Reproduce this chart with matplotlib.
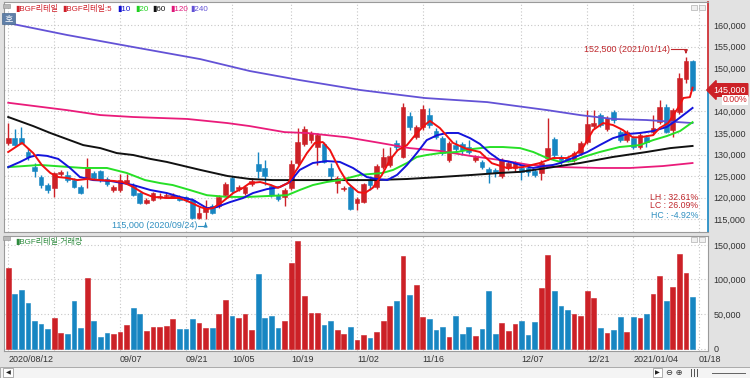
import numpy as np
import pandas as pd
import matplotlib
matplotlib.use("Agg")
import matplotlib.pyplot as plt
from matplotlib.patches import Rectangle
from matplotlib.transforms import blended_transform_factory

plt.rcParams['font.family'] = ['Liberation Sans', 'Noto Sans CJK KR', 'DejaVu Sans']

# trading days (KRX holidays removed)
holidays = ['2020-08-17', '2020-09-30', '2020-10-01', '2020-10-02', '2020-10-09',
            '2020-12-25', '2020-12-31', '2021-01-01']
dates = [d for d in pd.bdate_range('2020-08-12', '2021-01-15') if d.strftime('%Y-%m-%d') not in holidays]

opens = [132700, 133800, 133800, 130600, 127100, 124800, 123000, 122300, 125500, 125300,
         124100, 122500, 124600, 125750, 126200, 124350, 121800, 121800, 123400, 122700,
         121100, 118800, 119500, 120200, 120400, 120200, 120200, 120200, 119500, 115300,
         116700, 118100, 118100, 120600, 124600, 122000, 121100, 123200, 127800, 126900,
         122700, 120600, 120200, 122300, 128050, 132450, 133350, 131750, 132450, 126900,
         123400, 122000, 122500, 118800, 119000, 124100, 122500, 127100, 127600, 132700,
         129450, 138950, 134000, 136400, 139150, 135450, 133800, 128750, 132200, 132450,
         131750, 128750, 128300, 126650, 126450, 125050, 126900, 126900, 126900, 126900,
         126200, 125750, 129200, 133600, 129450, 129200, 128750, 130350, 132900, 136600,
         139150, 135900, 139850, 135200, 133350, 133800, 131750, 134000, 135200, 137550,
         141000, 135700, 139850, 147500, 151700]
highs = [137300, 135900, 136400, 131500, 128050, 125300, 123400, 126000, 126450, 126200,
         124600, 123000, 129200, 126200, 126450, 124800, 123000, 125500, 125500, 123400,
         121300, 120000, 121300, 121000, 121100, 121000, 120600, 120400, 120000, 117850,
         119500, 118500, 120600, 123600, 125050, 123000, 123000, 124600, 130600, 128750,
         123200, 121100, 122300, 128750, 136150, 136600, 135500, 135000, 132900, 128050,
         125050, 122700, 123000, 120200, 123400, 125050, 127800, 131500, 131750, 133350,
         141900, 139850, 136850, 141500, 140800, 136150, 134300, 133150, 133350, 132900,
         133350, 129900, 128750, 127100, 126900, 129200, 128500, 128500, 127350, 127350,
         126650, 128750, 138500, 134000, 129900, 129700, 130850, 133150, 140300, 140300,
         139600, 138950, 140300, 135700, 135700, 134300, 135000, 134500, 139150, 142600,
         141700, 140800, 148900, 152500, 152000]
lows = [132200, 132000, 132500, 128750, 124800, 122300, 121100, 120200, 125050, 123600,
        122300, 120900, 122300, 124100, 123600, 122700, 121300, 121300, 123200, 120400,
        118500, 118500, 119200, 119700, 120000, 119900, 119200, 119000, 115100, 115100,
        115000, 116300, 117600, 120400, 121100, 121600, 120600, 122700, 124600, 123000,
        120200, 119200, 118100, 121800, 127600, 132000, 132700, 127600, 128000, 124100,
        121100, 121600, 117200, 117200, 118800, 121800, 122000, 126650, 127100, 131050,
        129200, 135700, 133600, 135700, 136150, 133600, 129900, 128300, 130600, 129900,
        130150, 128300, 126650, 123400, 124800, 124600, 126450, 126000, 124100, 125050,
        124800, 124100, 128750, 129200, 127600, 128300, 128300, 129900, 132450, 136150,
        136400, 135450, 137300, 132900, 132900, 131300, 131300, 131750, 134500, 137100,
        135000, 134000, 139400, 146500, 144800]
closes = [133800, 132200, 132700, 129450, 126200, 123000, 121800, 125750, 126000, 124100,
          122500, 121100, 127100, 124600, 124100, 123200, 122500, 124100, 124100, 120600,
          118800, 119500, 121100, 120400, 120600, 120600, 119500, 119500, 115300, 116500,
          117600, 116500, 120200, 123200, 121600, 122500, 122500, 123900, 126200, 125050,
          120600, 119700, 121800, 127800, 132900, 135900, 135000, 134500, 128300, 125050,
          124600, 122300, 117400, 119700, 123200, 123000, 127350, 129450, 129700, 131750,
          141000, 136400, 136400, 140550, 136850, 134000, 130350, 132700, 131300, 131050,
          130600, 129450, 127100, 125750, 125750, 128750, 128050, 128050, 126000, 126000,
          125300, 128050, 131500, 129900, 128750, 128750, 130350, 132700, 137100, 137300,
          136850, 138500, 138000, 133350, 135200, 131750, 134500, 132900, 136150, 141000,
          135200, 140300, 147700, 151700, 145000]
volumes = [117000, 79000, 84800, 66400, 40300, 35500, 28300, 43800, 22900, 21000,
           68800, 29300, 101700, 40300, 17100, 22900, 21000, 23900, 33600, 58200,
           50000, 25800, 31200, 31200, 32100, 42700, 28300, 28300, 42700, 36900,
           30200, 30200, 49500, 70300, 47500, 43800, 50400, 26300, 108000, 43800,
           46600, 29300, 39800, 123400, 155300, 76500, 51000, 51000, 34000, 39800,
           26300, 21000, 31200, 11900, 19100, 15700, 24300, 39800, 62000, 68800,
           134000, 77500, 92000, 45200, 42300, 26800, 31600, 16700, 47500, 21400,
           30700, 17700, 28700, 83800, 21400, 36900, 25800, 36000, 40300, 19600,
           38400, 87200, 135500, 82900, 62000, 55300, 49500, 47500, 82900, 73600,
           30200, 22000, 26300, 45600, 23900, 45600, 44600, 50000, 79000, 105500,
           68800, 89100, 137000, 109800, 74600]

# moving-average lines (bar index, price)
ma5_x = [0, 2.1, 3.8, 5.1, 6.4, 7.6, 8.9, 10.5, 12, 14, 16, 17.4, 19, 20.5, 22, 24, 26, 27.6,
         29.2, 30.2, 31.1, 32.5, 34.2, 35.7, 36.7, 38.3, 39.8, 41, 42.5, 44, 45.4, 46.6, 47.8,
         48.9, 50.4, 51.6, 53.2, 54.2, 55.4, 56.8, 58, 59.2, 60.6, 62.1, 63.3, 64.1, 65.6, 67.6,
         69.7, 71.7, 73.5, 75.8, 78.2, 80.8, 82.8, 84.9, 86.4, 87.4, 88.9, 90.4, 91.9, 93.4,
         94.9, 96, 98, 99, 100.3, 101.8, 102.6, 103.6, 104]
ma5_y = [130600, 132700, 130350, 127600, 125750, 124800, 124600, 124100, 124350, 124100,
         123900, 123650, 122500, 121100, 120200, 119950, 119950, 119000, 117850, 117400,
         117600, 119000, 121100, 122300, 123400, 123650, 123000, 122300, 123400, 126900,
         130350, 132700, 132900, 131050, 126450, 123400, 121300, 121100, 122300, 125300,
         128750, 131050, 132200, 135000, 136850, 137800, 136150, 132700, 131300, 130600,
         128000, 126900, 127100, 128050, 129200, 129200, 130350, 131750, 135700, 137300,
         136850, 135700, 134000, 134000, 134500, 136150, 137300, 140800, 143100, 143300, 145500]
ma10_x = [0, 1.8, 3.3, 4.5, 5.9, 7.6, 9.4, 10.9, 12.9, 15.5, 17.4, 19, 21.6, 24.1, 26.1, 28.1,
          30.2, 31.7, 33.7, 35.7, 37.2, 39.3, 41.3, 42.8, 44.3, 46.3, 48.4, 50.4, 52.4, 54.5,
          56, 57.6, 59.1, 60.6, 62.1, 63.6, 65.2, 66.7, 68.4, 70.2, 71.7, 73.2, 74.7, 76.3,
          77.8, 79.8, 81.3, 82.8, 83.9, 85.8, 88, 89.9, 91.9, 94, 96, 98, 100.1, 101.6, 103.2, 104]
ma10_y = [127100, 128300, 129450, 129900, 129700, 129000, 126900, 124800, 124100, 123900,
          123400, 122950, 121800, 121100, 120200, 119500, 117600, 117850, 119000, 119950,
          121100, 122000, 122500, 123650, 126450, 128050, 128500, 128300, 126900, 124800,
          124350, 124100, 125300, 127600, 130350, 133350, 134500, 135000, 135000, 133800,
          132450, 130350, 128750, 128300, 127600, 126900, 127350, 127600, 128050, 129200,
          130600, 132200, 133800, 134750, 135000, 135450, 136400, 138000, 139850, 140800]
ma20_x = [0, 4.8, 11.4, 15, 18, 20.8, 23.1, 25, 27.6, 30.2, 33.3, 36.3, 39.3, 42.4, 44.3, 46.3,
          48.4, 50.4, 53.5, 56.9, 58.5, 60.6, 62.1, 63.6, 65.6, 68.2, 70.6, 73.2, 75.2, 77.8,
          79.8, 81.9, 83.9, 85.8, 87.4, 89.9, 92.9, 96, 98, 100.1, 102.1, 104]
ma20_y = [127100, 127600, 126900, 126900, 125750, 124100, 123400, 122950, 121800, 120600,
          120200, 120200, 120400, 120600, 121800, 122950, 123650, 124100, 125300, 125750,
          126450, 128050, 129450, 129900, 130350, 130600, 131300, 131750, 131750, 131500,
          130600, 129200, 128300, 128500, 129450, 130600, 131750, 132200, 133350, 134300,
          135450, 137500]
ma60_x = [0, 3.8, 6.4, 8.9, 11.4, 14, 16.5, 19, 21.6, 24.1, 29.2, 33.3, 36.7, 40.2, 45.4, 50.4,
          55.4, 60.6, 65.6, 70.6, 74.7, 77.8, 81.9, 86.9, 91.9, 97, 100.6, 104]
ma60_y = [138700, 136600, 135000, 133600, 132200, 131500, 130350, 129900, 129000, 128300,
          126450, 125050, 124350, 124100, 124100, 124100, 124100, 124350, 124800, 125300,
          125750, 126000, 126900, 128050, 129450, 130600, 131500, 132000]
ma120_x = [0, 8.9, 14, 19, 27.2, 33.3, 36.7, 42, 45.4, 51.5, 56.5, 61, 65.6, 70.2, 74.7, 79.3,
           83.9, 89.9, 94.5, 99.5, 104]
ma120_y = [142000, 140300, 139150, 138700, 138250, 137300, 136600, 135200, 135000, 134000,
           132700, 131500, 130850, 129700, 128750, 127600, 127100, 126900, 126900, 127350, 128050]
ma240_x = [0, 8.9, 19, 29.2, 36.7, 44.3, 53.5, 63.3, 72.8, 81.9, 86.9, 91.9, 97, 104]
ma240_y = [160450, 157700, 154900, 152100, 149350, 147250, 144950, 143100, 142150, 140300,
           139150, 138250, 138000, 137300]

grid_dates = ['2020-08-12', '2020-08-24', '2020-09-07', '2020-09-21', '2020-10-05', '2020-10-19',
              '2020-11-02', '2020-11-16', '2020-12-07', '2020-12-21', '2021-01-04', '2021-01-18']
grid_labels = ['2020/08/12', '', '09/07', '09/21', '10/05', '10/19', '11/02', '11/16',
               '12/07', '12/21', '2021/01/04', '01/18']

RED = '#cc2127'
BLUE = '#1786c2'
GRID = '#c6c6c6'
BG = '#e2e2e2'
W, H = 750, 378


def fx(px):
    return px / W


def fy(py):
    return 1 - py / H


n = len(closes)
x = np.arange(n)
o = np.array(opens); c = np.array(closes); hi = np.array(highs); lo = np.array(lows)
colors = np.where(c >= o, RED, BLUE)
date_str = [d.strftime('%Y-%m-%d') for d in dates]
grid_pos = [date_str.index(d) if d in date_str else n for d in grid_dates]

fig = plt.figure(figsize=(7.5, 3.78), dpi=100, facecolor=BG)
ax = fig.add_axes([fx(4), fy(232), fx(704), 230 / H])
axv = fig.add_axes([fx(4), fy(351), fx(704), 115 / H])

for a in (ax, axv):
    a.set_facecolor('white')
    a.set_xlim(-0.64, 106.35)
    a.set_xticks(grid_pos)
    a.grid(True, color=GRID, linestyle=(0, (1, 2)), lw=0.8)
    a.set_axisbelow(True)
    for s in a.spines.values():
        s.set_color('#9a9a9a')
        s.set_linewidth(0.8)
    a.yaxis.tick_right()
    a.tick_params(length=0, labelsize=6.5, colors='#333333', pad=4)

# candles
ax.vlines(x, lo, hi, colors=colors, lw=1.0, zorder=2)
body_lo = np.minimum(o, c)
body_h = np.maximum(np.abs(c - o), 250)
ax.bar(x, body_h, bottom=body_lo, width=0.72, color=colors, edgecolor=colors, lw=0.4, zorder=3)

ax.plot(ma240_x, ma240_y, color='#6352d6', lw=1.3, zorder=4)
ax.plot(ma120_x, ma120_y, color='#ea1b7a', lw=1.3, zorder=4)
ax.plot(ma60_x, ma60_y, color='#111111', lw=1.4, zorder=4)
ax.plot(ma20_x, ma20_y, color='#27e027', lw=1.4, zorder=4)
ax.plot(ma10_x, ma10_y, color='#1414dc', lw=1.4, zorder=4)
ax.plot(ma5_x, ma5_y, color='#f01010', lw=1.4, zorder=5)

ax.set_ylim(112080, 165325)
ax.set_yticks(range(115000, 160001, 5000))
ax.yaxis.set_major_formatter(matplotlib.ticker.FuncFormatter(lambda v, p: f'{int(v):,}'))
ax.set_xticklabels([])
ax.spines['right'].set_visible(False)

# current price marker on the axis edge
last = closes[-1]
tr = blended_transform_factory(ax.transAxes, ax.transData)
ax.plot([1.0, 1.0], [last, 165325], color=RED, lw=1.2, transform=tr, clip_on=False)
ax.plot([1.0, 1.0], [112080, last], color=BLUE, lw=1.2, transform=tr, clip_on=False)
fig.text(fx(746), fy(90), f'{last:,}', ha='right', va='center', color='white', size=6.5,
         bbox=dict(boxstyle='larrow,pad=0.2', fc=RED, ec=RED), zorder=10)
fig.text(fx(747), fy(100), '0.00%', ha='right', va='center', color=RED, size=6.3,
         bbox=dict(boxstyle='square,pad=0.1', fc='white', ec='none'), zorder=10)

# high / low annotations
hi_i = int(np.argmax(hi)); lo_i = int(np.argmin(lo))
hv, lv = hi[hi_i], lo[lo_i]
ax.text(hi_i - 2.4, hv + 1900, f'{hv:,} ({dates[hi_i]:%Y/%m/%d})', ha='right', va='center',
        color='#c0282d', size=6.5)
ax.plot([hi_i - 2.2, hi_i], [hv + 1900, hv + 1900], color='#c0282d', lw=0.8)
ax.annotate('', xy=(hi_i, hv + 200), xytext=(hi_i, hv + 1900),
            arrowprops=dict(arrowstyle='-|>', color='#c0282d', lw=0.8, mutation_scale=5))
ax.text(lo_i - 1.2, lv - 1500, f'{lv:,} ({dates[lo_i]:%Y/%m/%d})', ha='right', va='center',
        color='#2f8fc0', size=6.5)
ax.plot([lo_i - 1.1, lo_i], [lv - 1500, lv - 1500], color='#2f8fc0', lw=0.8)
ax.annotate('', xy=(lo_i, lv - 200), xytext=(lo_i, lv - 1500),
            arrowprops=dict(arrowstyle='-|>', color='#2f8fc0', lw=0.8, mutation_scale=5))

lh = (hv / lv - 1) * 100
lc = (last / lv - 1) * 100
hc = (last / hv - 1) * 100
fig.text(fx(698), fy(197), f'LH : {lh:.2f}%', ha='right', va='center', color='#c0282d', size=6.3)
fig.text(fx(698), fy(206), f'LC : {lc:.2f}%', ha='right', va='center', color='#c0282d', size=6.3)
fig.text(fx(698), fy(215), f'HC : {hc:.2f}%', ha='right', va='center', color='#2f8fc0', size=6.3)

# volume panel
axv.bar(x, volumes, width=0.72, color=colors, edgecolor=colors, lw=0.4, zorder=3)
axv.set_ylim(-3600, 163000)
axv.set_yticks([0, 50000, 100000, 150000])
axv.yaxis.set_major_formatter(matplotlib.ticker.FuncFormatter(lambda v, p: f'{int(v):,}'))
axv.set_xticklabels(grid_labels)
for t in axv.get_xticklabels():
    t.set_ha('left')
axv.tick_params(axis='x', pad=3)

# header legends
legend_items = [('▮BGF리테일', '#d0202a', 15), ('▮BGF리테일:5', '#d0202a', 62), ('▮10', '#1010d0', 117),
                ('▮20', '#20d020', 135), ('▮60', '#111111', 152), ('▮120', '#e0187a', 170),
                ('▮240', '#6352d6', 190)]
for txt, col, px in legend_items:
    fig.text(fx(px), fy(9), txt, color=col, size=5.8, va='center', ha='left')
fig.text(fx(15), fy(242), '▮BGF리테일:거래량', color='#2e8b3e', size=5.8, va='center', ha='left')

# small panel icons
for py in (4, 236):
    fig.patches.append(Rectangle((fx(3), fy(py + 4)), fx(7), 4 / H, transform=fig.transFigure,
                                 fc='#b8b8b8', ec='#909090', lw=0.4))
    for px in (691, 699):
        fig.patches.append(Rectangle((fx(px), fy(py + 6)), fx(6), 5 / H, transform=fig.transFigure,
                                     fc='#f0f0f0', ec='#a0a0a0', lw=0.4))
fig.patches.append(Rectangle((fx(2), fy(24)), fx(13), 11 / H, transform=fig.transFigure,
                             fc='#5f7fa8', ec='#4a6a90', lw=0.5))
fig.text(fx(8.5), fy(18.5), '호', color='white', size=6.5, ha='center', va='center',
         family=['Noto Sans CJK KR', 'DejaVu Sans'])

# bottom scroll bar
fig.patches.append(Rectangle((0, 0), 1, 11 / H, transform=fig.transFigure, fc='#f4f4f4', ec='#a0a0a0', lw=0.6))
fig.patches.append(Rectangle((fx(3), fy(377)), fx(10), 9 / H, transform=fig.transFigure,
                             fc='white', ec='#909090', lw=0.5))
fig.text(fx(8), fy(372.5), '◀', size=4.5, ha='center', va='center', color='#222222', family='DejaVu Sans')
fig.patches.append(Rectangle((fx(653), fy(377)), fx(9), 9 / H, transform=fig.transFigure,
                             fc='white', ec='#909090', lw=0.5))
fig.text(fx(657.5), fy(372.5), '▶', size=4.5, ha='center', va='center', color='#222222', family='DejaVu Sans')
fig.text(fx(666), fy(372.5), '⊖ ⊕', size=6, ha='left', va='center', color='#333333', family='DejaVu Sans')
for px in (691, 694, 697):
    fig.patches.append(Rectangle((fx(px), fy(377)), fx(1), 8 / H, transform=fig.transFigure,
                                 fc='#555555', ec='none'))
fig.patches.append(Rectangle((fx(712), fy(374)), fx(34), 1 / H, transform=fig.transFigure,
                             fc='#666666', ec='none'))

fig.savefig('out.png', dpi=100, facecolor=BG)
